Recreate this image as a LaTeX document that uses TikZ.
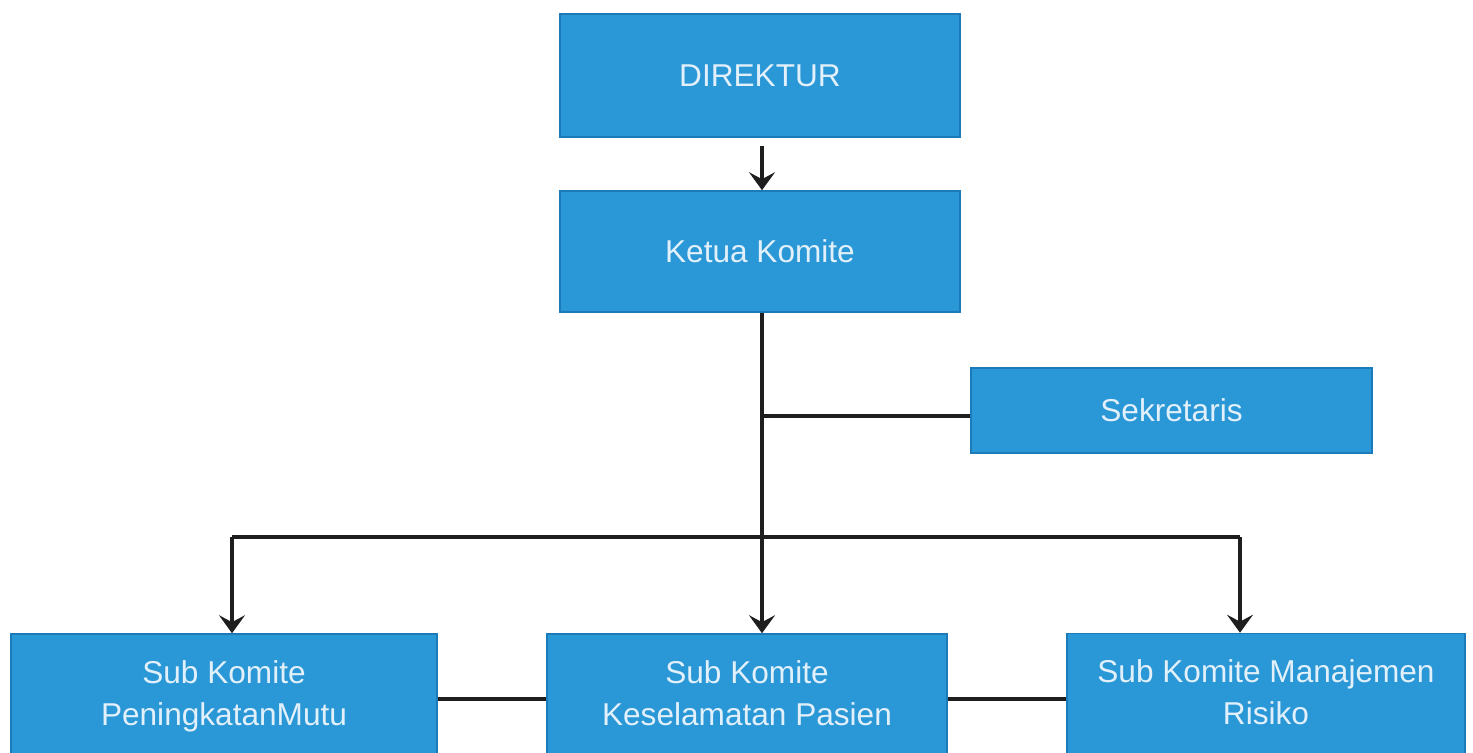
\documentclass[tikz,border=0pt]{standalone}
\usepackage{fontspec}
\setmainfont{Liberation Sans}
\usetikzlibrary{arrows.meta}
\definecolor{boxfill}{RGB}{42,151,214}
\definecolor{boxedge}{RGB}{28,122,184}
\definecolor{boxtext}{RGB}{225,240,250}
\definecolor{linec}{RGB}{30,30,30}
\begin{document}
\begin{tikzpicture}[x=0.5pt,y=-0.5pt,
  orgbox/.style={draw=boxedge, line width=0.8pt, fill=boxfill, text=boxtext,
    font=\fontsize{15.8pt}{21pt}\selectfont, align=center, inner sep=0pt},
  conn/.style={draw=linec, line width=2pt},
  arr/.style={conn, -{Stealth[length=9pt, width=13pt, inset=3.5pt]}}
]
\useasboundingbox (0,0) rectangle (1473,752);
\clip (0,0) rectangle (1473,752);
\fill[white] (0,0) rectangle (1473,752);

\node[orgbox, minimum width=200pt, minimum height=61.5pt] (dir) at (760,75.5) {DIREKTUR};
\node[orgbox, minimum width=200pt, minimum height=60.5pt] (ketua) at (760,251.5) {Ketua Komite};
\node[orgbox, minimum width=200.5pt, minimum height=42.5pt] (sek) at (1171.5,410.5) {Sekretaris};
\node[orgbox, minimum width=213pt, minimum height=62pt] (pm) at (224,696) {Sub Komite\\PeningkatanMutu};
\node[orgbox, minimum width=200pt, minimum height=62pt] (kp) at (747,696) {Sub Komite\\Keselamatan Pasien\vphantom{g}};
\node[orgbox, minimum width=199pt, minimum height=62pt] (mr) at (1266,695.5) {Sub Komite Manajemen\\Risiko\vphantom{g}};

\coordinate (a0) at (762,146);
\coordinate (j1) at (762,416);
\coordinate (busL) at (232,537);
\coordinate (busR) at (1240,537);

\draw[arr] (a0) -- (ketua.north -| a0);
\draw[arr] (ketua.south -| a0) -- (kp.north -| a0);
\draw[conn] (j1) -- (sek.west |- j1);
\draw[conn] (busL) -- (busR);
\draw[arr] (busL) -- (pm.north -| busL);
\draw[arr] (busR) -- (mr.north -| busR);
\draw[conn] (pm.east |- 0,699) -- (kp.west |- 0,699);
\draw[conn] (kp.east |- 0,699) -- (mr.west |- 0,699);
\end{tikzpicture}
\end{document}
